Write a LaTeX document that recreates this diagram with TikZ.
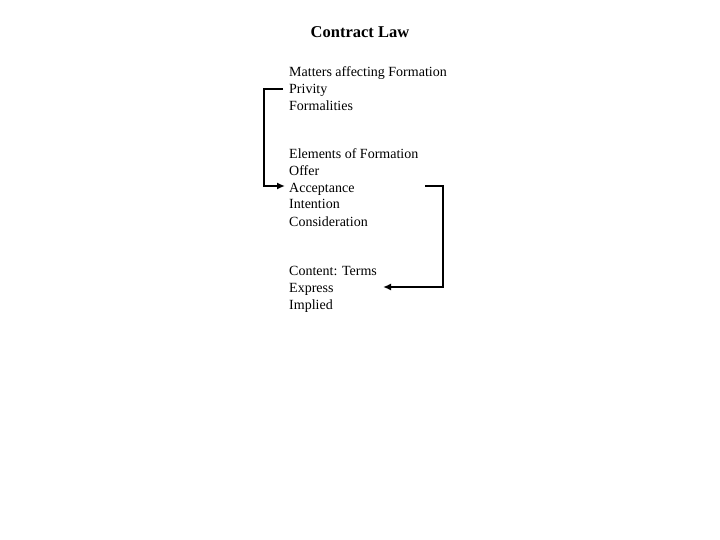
\documentclass[tikz,border=0pt]{standalone}
\usepackage{fontspec}
\setmainfont{Liberation Serif}
\usetikzlibrary{arrows.meta}
\begin{document}
\begin{tikzpicture}[x=1pt,y=-1pt,
  line/.style={anchor=base west,inner sep=0pt,font=\fontsize{14}{17}\selectfont},
  title/.style={anchor=base,inner sep=0pt,font=\fontsize{16.5}{20}\selectfont\bfseries},
  conn/.style={line width=2pt,-{Latex[length=8pt,width=7pt]}}]
\useasboundingbox (0,0) rectangle (720,540);
\node[title] (t) at (360,38) {Contract Law};
\node[line] (m1) at (289,77) {Matters affecting Formation};
\node[line] (m2) at (289,94) {Privity};
\node[line] (m3) at (289,111) {Formalities};
\node[line] (e1) at (289,159) {Elements of Formation};
\node[line] (e2) at (289,176) {Offer};
\node[line] (e3) at (289,193) {Acceptance};
\node[line] (e4) at (289,209) {Intention};
\node[line] (e5) at (289,226) {Consideration};
\node[line] (c1) at (289,275) {Content: Terms};
\node[line] (c2) at (289,292) {Express};
\node[line] (c3) at (289,309) {Implied};
\coordinate (a1) at (283,89);
\coordinate (a2) at (285,186);
\coordinate (b1) at (425,186);
\coordinate (b2) at (383,287);
\draw[conn] (a1) -- (264,89) |- (a2);
\draw[conn] (b1) -- (443,186) |- (b2);
\end{tikzpicture}
\end{document}
